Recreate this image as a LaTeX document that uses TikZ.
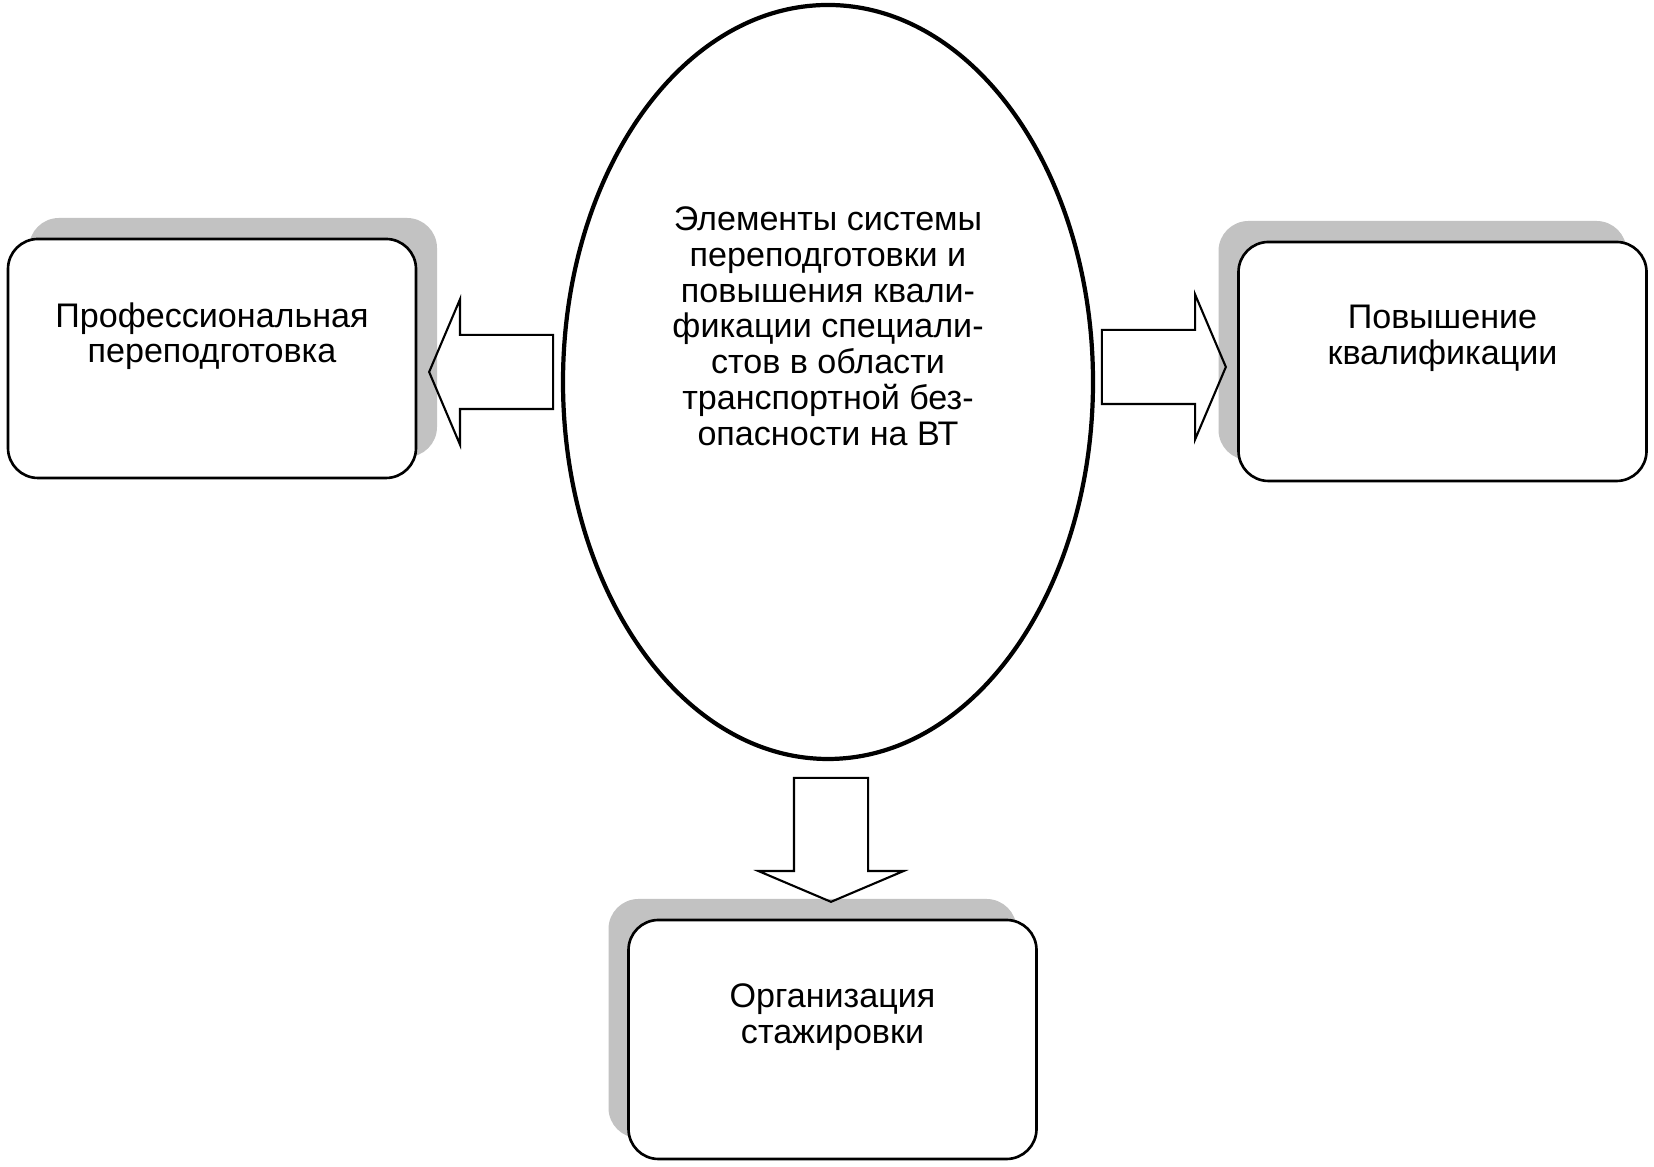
\documentclass[tikz,border=0pt]{standalone}
\usepackage{fontspec}
\setmainfont{Liberation Sans}
\usepackage{tikz}
\usetikzlibrary{positioning,shapes.geometric,shapes.arrows,shadows}

\tikzset{
  box/.style={rectangle, rounded corners=0.3cm, draw, fill=white, line width=0.75pt,
    minimum width=4.08cm, minimum height=2.39cm},
  boxshadow/.style={drop shadow={shadow xshift=#1, shadow yshift=0.21cm,
    fill=black, opacity=0.24}},
  ell/.style={ellipse, draw, line width=1.2pt, minimum width=5.30cm, minimum height=7.54cm},
  lbl/.style={inner sep=0pt, align=center, font=\fontsize{9.7pt}{10.2pt}\selectfont},
  blockarrow/.style={single arrow, draw, fill=white, line width=0.6pt,
    minimum height=1.24cm, minimum width=1.43cm, inner xsep=0pt, inner ysep=0.36cm,
    single arrow head extend=0.355cm, single arrow tip angle=134}
}

\begin{document}
\begin{tikzpicture}
  \useasboundingbox (0,0) rectangle (16.54,11.67);

  % central ellipse
  \node[ell] (ell) at (8.28,7.85) {};
  \node[lbl, below=2.03cm of ell.north] (elltxt) {Элементы системы\\ переподготовки и\\ повышения квали-\\ фикации специали-\\ стов в области\\ транспортной без-\\ опасности на ВТ};

  % block arrows
  \node[blockarrow, rotate=180, anchor=tip] (toprof) at (4.28,7.95) {};
  \node[blockarrow, anchor=tip] (toqual) at (12.27,8.00) {};
  \node[blockarrow, rotate=-90, anchor=tip] (tointern) at (8.31,2.64) {};

  % boxes
  \node[box, boxshadow=0.21cm] (prof) at (2.12,8.085) {};
  \node[lbl, below=0.64cm of prof.north] (proftxt) {Профессиональная\\ переподготовка};
  \node[box, boxshadow=-0.2cm] (qual) at (14.425,8.055) {};
  \node[lbl, below=0.64cm of qual.north] (qualtxt) {Повышение\\ квалификации};
  \node[box, boxshadow=-0.2cm] (intern) at (8.325,1.275) {};
  \node[lbl, below=0.64cm of intern.north] (interntxt) {Организация\\ стажировки};
\end{tikzpicture}
\end{document}
